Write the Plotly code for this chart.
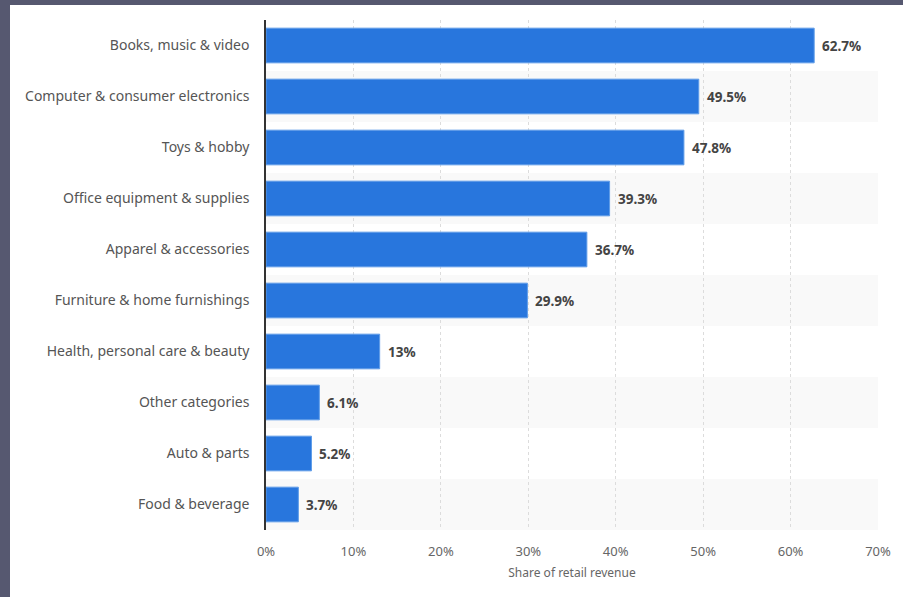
import plotly.graph_objects as go

categories = ["Books, music & video", "Computer & consumer electronics", "Toys & hobby",
              "Office equipment & supplies", "Apparel & accessories", "Furniture & home furnishings",
              "Health, personal care & beauty", "Other categories", "Auto & parts", "Food & beverage"]
values = [62.7, 49.5, 47.8, 39.3, 36.7, 29.9, 13, 6.1, 5.2, 3.7]
x_ticks = [0, 10, 20, 30, 40, 50, 60, 70]

W, H = 903, 597
ML, MR, MT, MB = 266, 25, 20, 67
PW, PH = W - ML - MR, H - MT - MB

fig = go.Figure()
fig.add_trace(go.Bar(
    x=values, y=categories, orientation="h",
    marker=dict(color="#2876dd", line=dict(color="#5e9ce8", width=1)),
    width=0.68,
    hoverinfo="skip",
))

annotations = []
for c, v in zip(categories, values):
    annotations.append(dict(x=v, y=c, xref="x", yref="y", text=f"{v:g}%",
                            showarrow=False, xanchor="left", yanchor="middle", xshift=6,
                            font=dict(family="Noto Sans", size=13.5, color="#444444", weight="bold")))

shapes = []
for i, c in enumerate(categories):
    if i % 2 == 1:
        shapes.append(dict(type="rect", xref="paper", yref="y", x0=0, x1=1,
                           y0=i - 0.5, y1=i + 0.5, fillcolor="#f9f9f9",
                           line=dict(width=0), layer="below"))
# dark frame strips
fc = "#565870"
shapes.append(dict(type="rect", xref="paper", yref="paper",
                   x0=-ML / PW, x1=(10 - ML) / PW, y0=-MB / PH, y1=1 + MT / PH,
                   fillcolor=fc, line=dict(width=0)))
shapes.append(dict(type="rect", xref="paper", yref="paper",
                   x0=-ML / PW, x1=1 + MR / PW, y0=1 + (MT - 5) / PH, y1=1 + MT / PH,
                   fillcolor=fc, line=dict(width=0)))

fig.update_layout(
    width=W, height=H,
    margin=dict(l=ML, r=MR, t=MT, b=MB),
    paper_bgcolor="white", plot_bgcolor="white",
    showlegend=False,
    shapes=shapes,
    annotations=annotations,
    xaxis=dict(range=[0, 70], tickvals=x_ticks, ticktext=[f"{t}%" for t in x_ticks],
               showgrid=True, gridcolor="#dcdcdc", griddash="dot", gridwidth=1,
               zeroline=False, showline=False,
               tickfont=dict(family="Noto Sans", size=13, color="#666666"),
               title=dict(text="Share of retail revenue", standoff=10,
                          font=dict(family="Noto Sans", size=12, color="#666666")),
               ticks="outside", ticklen=9, tickcolor="rgba(0,0,0,0)"),
    yaxis=dict(categoryorder="array", categoryarray=categories,
               showgrid=False, zeroline=False, showline=True, linecolor="#333333", linewidth=1.5,
               tickfont=dict(family="Noto Sans", size=14, color="#555555"),
               ticks="outside", ticklen=12, tickcolor="rgba(0,0,0,0)",
               range=[9.5, -0.5]),
)

fig.write_html("out.html", config={"displayModeBar": False},
               post_script="document.body.style.margin='0';")
